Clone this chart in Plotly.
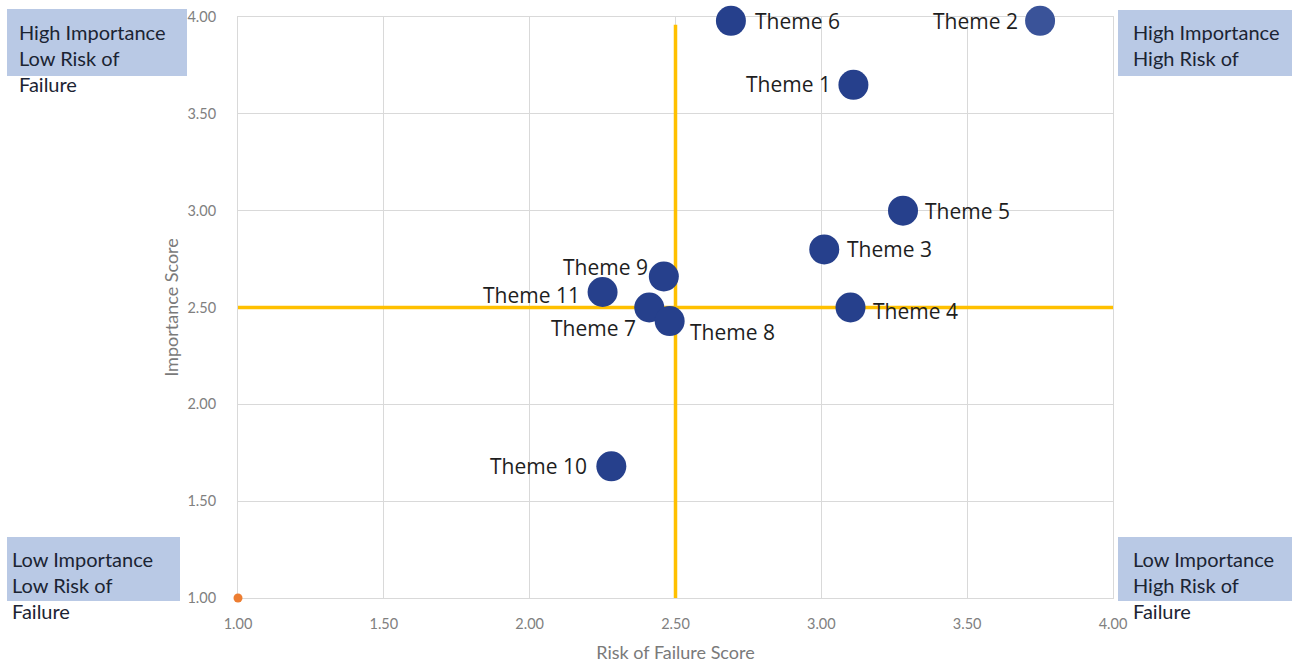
import plotly.graph_objects as go

# ---- data ----
themes = ["Theme 1", "Theme 2", "Theme 3", "Theme 4", "Theme 5", "Theme 6",
          "Theme 7", "Theme 8", "Theme 9", "Theme 10", "Theme 11"]
risk = [3.11, 3.75, 3.01, 3.10, 3.28, 2.69, 2.41, 2.48, 2.46, 2.28, 2.25]
importance = [3.65, 3.98, 2.80, 2.50, 3.00, 3.98, 2.50, 2.43, 2.66, 1.68, 2.58]

origin_x = [1.0]
origin_y = [1.0]

vline_x = [2.5, 2.5]
vline_y = [1.0, 3.96]
hline_x = [1.0, 4.0]
hline_y = [2.5, 2.5]

tick_vals = [1.0, 1.5, 2.0, 2.5, 3.0, 3.5, 4.0]
tick_text = ["1.00", "1.50", "2.00", "2.50", "3.00", "3.50", "4.00"]

quadrant_texts = [
    "High Importance<br>Low Risk of<br>Failure",
    "High Importance<br>High Risk of",
    "Low Importance<br>Low Risk of<br>Failure",
    "Low Importance<br>High Risk of<br>Failure",
]

# ---- styling ----
marker_colors = ["#26408c", "#3a5399", "#26408c", "#26408c", "#26408c", "#26408c",
                 "#26408c", "#26408c", "#26408c", "#26408c", "#26408c"]
# label placement per theme: (xanchor, xshift, yshift)
label_place = {
    "Theme 1": ("right", -20, 1),
    "Theme 2": ("right", -20, 0),
    "Theme 3": ("left", 21, 0),
    "Theme 4": ("left", 20, -3),
    "Theme 5": ("left", 20, 0),
    "Theme 6": ("left", 22, 0),
    "Theme 7": ("right", -11, -20),
    "Theme 8": ("left", 18, -11),
    "Theme 9": ("right", -14, 10),
    "Theme 10": ("right", -22, 0),
    "Theme 11": ("right", -21, -3),
}

GOLD = "#FFC000"
GRID = "#d9d9d9"

fig = go.Figure()

fig.add_trace(go.Scatter(x=hline_x, y=hline_y, mode="lines",
                         line=dict(color=GOLD, width=3.5), hoverinfo="skip",
                         showlegend=False))
fig.add_trace(go.Scatter(x=vline_x, y=vline_y, mode="lines",
                         line=dict(color=GOLD, width=3.5), hoverinfo="skip",
                         showlegend=False))
fig.add_trace(go.Scatter(x=origin_x, y=origin_y, mode="markers",
                         marker=dict(color="#ED7D31", size=9, symbol="circle"),
                         cliponaxis=False, showlegend=False))
fig.add_trace(go.Scatter(x=risk, y=importance, mode="markers", text=themes,
                         marker=dict(color=marker_colors, size=30),
                         cliponaxis=False, showlegend=False))

annotations = []
for name, xv, yv in zip(themes, risk, importance):
    xa, xs, ys = label_place[name]
    annotations.append(dict(x=xv, y=yv, xref="x", yref="y", text=name,
                            showarrow=False, xanchor=xa, yanchor="middle",
                            xshift=xs, yshift=ys,
                            font=dict(family="Open Sans", size=21, color="#1e1e1e")))

# plot area in pixels: x 238..1113, y 17..598
def px_x(p):
    return (p - 238) / 875.0

def px_y(p):
    return (598 - p) / 581.0

qt_font = dict(family="Lato", size=20, color="#1b2433")
quad_pos = [
    (17, 58),     # TL
    (1131, 45),   # TR
    (10, 585),    # BL
    (1131, 585),  # BR
]
for txt, (qx, qy) in zip(quadrant_texts, quad_pos):
    annotations.append(dict(x=px_x(qx), y=px_y(qy), xref="paper", yref="paper",
                            text=txt, showarrow=False, xanchor="left",
                            yanchor="middle", align="left", font=qt_font))

boxes = [(7, 187, 9, 76), (1118, 1292, 10, 76), (7, 180, 537, 601), (1118, 1292, 537, 601)]
shapes = []
for x0, x1, y0, y1 in boxes:
    shapes.append(dict(type="rect", xref="paper", yref="paper",
                       x0=px_x(x0), x1=px_x(x1), y0=px_y(y1), y1=px_y(y0),
                       fillcolor="#b9c9e5", line=dict(width=0), layer="below"))

tick_font = dict(family="Lato", size=14.5, color="#808080")
title_font = dict(family="Lato", size=18, color="#7a7a7a")

fig.update_layout(
    width=1292, height=672,
    margin=dict(l=238, r=179, t=17, b=74, autoexpand=False),
    paper_bgcolor="white", plot_bgcolor="white",
    annotations=annotations, shapes=shapes,
    xaxis=dict(range=[1, 4], tickvals=tick_vals, ticktext=tick_text,
               showgrid=True, gridcolor=GRID, gridwidth=1,
               showline=True, linecolor=GRID, mirror=True, zeroline=False,
               layer="below traces",
               tickfont=tick_font, ticks="", ticklabelstandoff=13,
               title=dict(text="Risk of Failure Score", standoff=14, font=title_font)),
    yaxis=dict(range=[1, 4], tickvals=tick_vals, ticktext=tick_text,
               showgrid=True, gridcolor=GRID, gridwidth=1,
               showline=True, linecolor=GRID, mirror=True, zeroline=False,
               layer="below traces",
               tickfont=tick_font, ticks="", ticklabelstandoff=18,
               title=dict(text="Importance Score", standoff=4, font=title_font)),
)

fig.write_html("out.html")
